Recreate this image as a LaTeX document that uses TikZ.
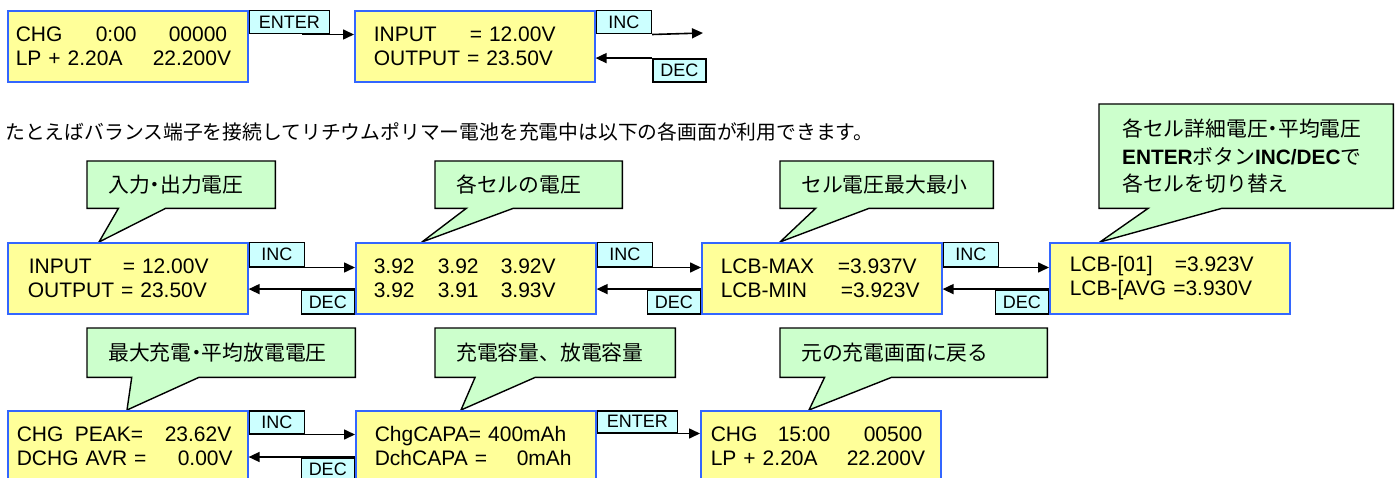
\documentclass[tikz,border=0pt]{standalone}
\usepackage{fontspec}
\setmainfont{Liberation Sans}
\newfontfamily\jp{Noto Sans CJK JP}
\usetikzlibrary{arrows.meta,calc,backgrounds}
\definecolor{scrfill}{HTML}{FFFF99}
\definecolor{scrline}{HTML}{3366FF}
\definecolor{btnfill}{HTML}{CCFFFF}
\definecolor{bubfill}{HTML}{CCFFCC}
\newcommand{\cl}[2]{\makebox[#1][l]{#2}}
\newcommand{\nd}{\makebox[0.5em][c]{・}}
\newcommand{\bubbleoutline}[2]{%
  \begin{pgfonlayer}{background}
    \draw[bubline] (#1.north west) -- (#1.north east) -- (#1.south east)
      -- ($(#1.south west)!5/12!(#1.south east)$) -- (#2)
      -- ($(#1.south west)!2/12!(#1.south east)$) -- (#1.south west) -- cycle;
  \end{pgfonlayer}}
\begin{document}
\begin{tikzpicture}[x=1pt,y=-1pt,
  screen/.style={draw=scrline, fill=scrfill, line width=1.6pt, minimum width=240pt,
    minimum height=71pt, anchor=north west, inner sep=0pt, align=left, text width=240pt,
    font=\fontsize{21}{25}\selectfont},
  btn/.style={draw=black, fill=btnfill, line width=1.5pt, inner sep=0pt,
    font=\fontsize{18}{18}\selectfont, minimum height=23pt},
  arr/.style={-{Triangle[length=11pt,width=10pt]}, line width=1.6pt},
  bub/.style={draw=none, anchor=north west, inner xsep=21pt, inner ysep=0pt, align=left,
    font=\jp\fontsize{20.8}{27.5}\selectfont},
  bubline/.style={draw=black, fill=bubfill, line width=1.4pt, line join=miter}
]
\useasboundingbox (0,0) rectangle (1399,478);
\clip (0,0) rectangle (1399,478);

% ---------- row 1 ----------
\node[screen] (a) at (7,10) {\hspace*{8pt}\cl{80pt}{CHG}\cl{73pt}{0:00}00000\\[-1pt]
  \hspace*{8pt}\cl{137pt}{LP + 2.20A}22.200V};
\node[screen] (b) at (354,10) {\hspace*{19pt}\cl{96pt}{INPUT}= 12.00V\\[-1pt]
  \hspace*{19pt}OUTPUT = 23.50V};
\node[btn, anchor=north west, minimum width=80pt] (enter0) at (a.north east) {ENTER};
\node[btn, anchor=north west, minimum width=55pt] (inc0) at (b.north east) {INC};
\node[btn, anchor=south west, minimum width=53pt] (dec0) at (inc0.east |- b.south) {DEC};
\coordinate (e0) at (703,33);
\draw[arr] ($(enter0.south west)!0.66!(enter0.south east)$) -- (enter0.south -| b.west);
\draw[arr] (inc0.south east) -- (e0);
\draw[arr] (dec0.north west) -- (dec0.north west -| b.east);

% ---------- intro text ----------
\node[anchor=west, inner sep=0pt, font=\jp\fontsize{19.8}{20}\selectfont] (intro) at (5,132)
  {たとえばバランス端子を接続してリチウムポリマー電池を充電中は以下の各画面が利用できます。};

% ---------- row 2 ----------
\node[screen] (m1) at (7,242) {\hspace*{21pt}\cl{94pt}{INPUT}= 12.00V\\[-1pt]
  \hspace*{20pt}OUTPUT = 23.50V};
\node[screen] (m2) at (355,242) {\hspace*{18pt}\cl{64pt}{3.92}\cl{63pt}{3.92}3.92V\\[-1pt]
  \hspace*{18pt}\cl{64pt}{3.92}\cl{63pt}{3.91}3.93V};
\node[screen] (m3) at (701,242) {\hspace*{19pt}\cl{117pt}{LCB-MAX}=3.937V\\[-1pt]
  \hspace*{19pt}\cl{120pt}{LCB-MIN}=3.923V};
\node[screen] (m4) at (1049,242) {\hspace*{20pt}\cl{105pt}{LCB-[01]}=3.923V\\[-1pt]
  \hspace*{20pt}LCB-[AVG =3.930V};
\foreach \p/\n [count=\i] in {m1/m2,m2/m3,m3/m4}{
  \node[btn, anchor=north west, minimum width=55pt, minimum height=24pt] (inc\i) at (\p.north east) {INC};
  \node[btn, anchor=south east, minimum width=53pt, minimum height=24pt] (dec\i) at (\n.south west) {DEC};
  \draw[arr] (inc\i.south east) -- (inc\i.south east -| \n.west);
  \draw[arr] (dec\i.north east) -- (dec\i.north east -| \p.east);
}

% ---------- row 3 ----------
\node[screen] (r1) at (7,410) {\hspace*{9pt}\cl{58pt}{CHG}\cl{90pt}{PEAK=}23.62V\\[-1pt]
  \hspace*{9pt}\cl{161pt}{DCHG AVR =}0.00V};
\node[screen] (r2) at (355,410) {\hspace*{19pt}ChgCAPA= 400mAh\\[-1pt]
  \hspace*{19pt}\cl{142pt}{DchCAPA =}0mAh};
\node[screen] (r3) at (700,410) {\hspace*{10pt}\cl{67pt}{CHG}\cl{86pt}{15:00}00500\\[-1pt]
  \hspace*{10pt}\cl{136pt}{LP + 2.20A}22.200V};
\node[btn, anchor=north west, minimum width=55pt] (inc4) at (r1.north east) {INC};
\node[btn, anchor=north east, minimum width=53pt] (dec4) at (355,457) {DEC};
\node[btn, anchor=north west, minimum width=80pt, minimum height=22pt] (enter1) at (r2.north east) {ENTER};
\draw[arr] (inc4.south east) -- (inc4.south east -| r2.west);
\draw[arr] (dec4.north east) -- (dec4.north east -| r1.east);
\draw[arr] ($(enter1.south west)!0.68!(enter1.south east)$) -- (enter1.south -| r3.west);

% ---------- callouts ----------
\coordinate (t1) at ($(m1.north west)+(92,0)$);
\coordinate (t2) at ($(m2.north west)+(67,0)$);
\coordinate (t3) at ($(m3.north west)+(79,0)$);
\coordinate (t4) at ($(m4.north west)+(51,0)$);
\coordinate (t5) at ($(r1.north west)+(120,0)$);
\coordinate (t6) at ($(r2.north west)+(106,0)$);
\coordinate (t7) at ($(r3.north west)+(109,0)$);

\node[bub, text width=146pt, minimum height=47pt] (c1) at (87,161) {入力\nd 出力電圧};
\node[bub, text width=145pt, minimum height=47pt] (c2) at (435,161) {各セルの電圧};
\node[bub, text width=171pt, minimum height=47pt] (c3) at (780,161) {セル電圧最大最小};
\node[bub, inner xsep=23pt, text width=248pt, minimum height=104pt] (c4) at (1099,104)
  {各セル詳細電圧\nd 平均電圧\\
   {\fontspec{Liberation Sans}\bfseries ENTER}ボタン{\fontspec{Liberation Sans}\bfseries INC/DEC}で\\
   各セルを切り替え};
\node[bub, text width=226pt, minimum height=49pt] (c5) at (87,328) {最大充電\nd 平均放電電圧};
\node[bub, text width=198pt, minimum height=49pt] (c6) at (435,328) {充電容量、放電容量};
\node[bub, text width=225pt, minimum height=49pt] (c7) at (780,328) {元の充電画面に戻る};
\bubbleoutline{c1}{t1}
\bubbleoutline{c2}{t2}
\bubbleoutline{c3}{t3}
\bubbleoutline{c4}{t4}
\bubbleoutline{c5}{t5}
\bubbleoutline{c6}{t6}
\bubbleoutline{c7}{t7}
\end{tikzpicture}
\end{document}
